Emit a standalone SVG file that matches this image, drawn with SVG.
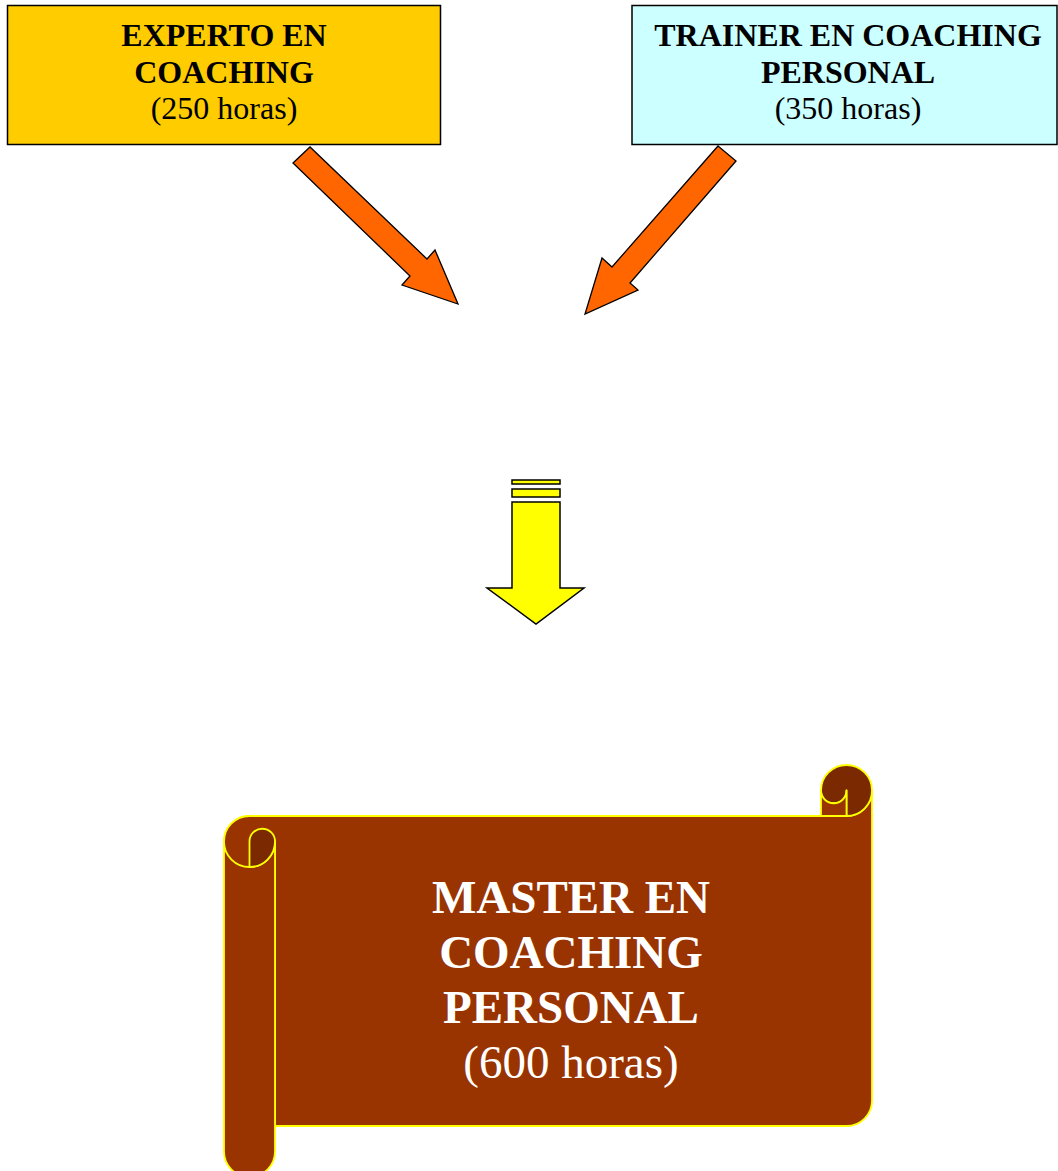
<svg xmlns="http://www.w3.org/2000/svg" width="1058" height="1171" viewBox="0 0 1058 1171">
<style>
.box{stroke:#000;stroke-width:1.5}
.t{font-family:"Liberation Serif","Times New Roman",serif;text-anchor:middle;fill:#000}
.b{font-weight:bold}
.arr{fill:#FF6600;stroke:#000;stroke-width:1.3;stroke-linejoin:miter}
.ya{fill:#FFFF00;stroke:#000;stroke-width:1.5}
.sc{fill:#993300;stroke:#FFFF00;stroke-width:1.8;stroke-linejoin:round}
.scf{fill:#993300;stroke:none}
.ln{fill:none;stroke:#FFFF00;stroke-width:1.8;stroke-linejoin:round}
.dk{fill:#7A2900;stroke:#FFFF00;stroke-width:1.8;stroke-linejoin:round}
.w{font-family:"Liberation Serif","Times New Roman",serif;text-anchor:middle;fill:#fff}
</style>
<rect width="1058" height="1171" fill="#fff"/>
<g id="experto">
<rect class="box" x="7.5" y="5.5" width="433" height="139" fill="#FFCC00"/>
<text class="t b" x="224" y="46" font-size="32">EXPERTO EN</text>
<text class="t b" x="224" y="83" font-size="32">COACHING</text>
<text class="t" x="224" y="119" font-size="32">(250 horas)</text>
</g>
<g id="trainer">
<rect class="box" x="632" y="5.5" width="425" height="139" fill="#CCFFFF"/>
<text class="t b" x="848" y="46" font-size="32">TRAINER EN COACHING</text>
<text class="t b" x="848" y="83" font-size="32">PERSONAL</text>
<text class="t" x="848" y="119" font-size="32">(350 horas)</text>
</g>
<g id="connectors">
<polygon class="arr" points="293,163 310,147 427,259 435,250 458,304 402,285 410,276"/>
<polygon class="arr" points="718,146 736,161 630,283 638,290 585,314 602,258 612,267"/>
<rect class="ya" x="512" y="480" width="48" height="4"/>
<rect class="ya" x="512" y="489" width="48" height="8"/>
<polygon class="ya" points="512,502 560,502 560,588 584,588 536,624 487,588 512,588"/>
</g>
<g id="master">
<path class="sc" d="M224,841.5 A25.5,25.5 0 0 1 249.5,816 L846.5,816 A25.5,25.5 0 0 0 872,790.5 L872,1100.5 A25.5,25.5 0 0 1 846.5,1126 L275,1126 L275,841.5 Z"/>
<path class="dk" d="M821,790.5 A25.5,25.5 0 1 1 846.5,816 L846.5,790.5 A12.75,12.75 0 0 1 821,790.5 Z"/>
<path class="sc" d="M821,816 L821,790.5 A12.75,12.75 0 0 0 846.5,790.5 L846.5,816 Z"/>
<path class="scf" d="M224,841.5 A25.5,25.5 0 0 1 275,841.5 L275,1151.5 A25.5,25.5 0 0 1 224,1151.5 Z"/>
<path class="ln" d="M275,841.5 L275,1151.5 A25.5,25.5 0 0 1 224,1151.5 L224,841.5 A25.5,25.5 0 0 0 275,841.5 M224,841.5 A25.5,25.5 0 0 1 249.5,816 L290,816"/>
<path class="dk" d="M249.5,867 L249.5,841.5 A12.75,12.75 0 0 1 275,841.5 A25.5,25.5 0 0 1 249.5,867 Z"/>
<text class="w b" x="571" y="913" font-size="47">MASTER EN</text>
<text class="w b" x="571" y="968" font-size="47">COACHING</text>
<text class="w b" x="571" y="1023" font-size="47">PERSONAL</text>
<text class="w" x="571" y="1078" font-size="47">(600 horas)</text>
</g>
</svg>
